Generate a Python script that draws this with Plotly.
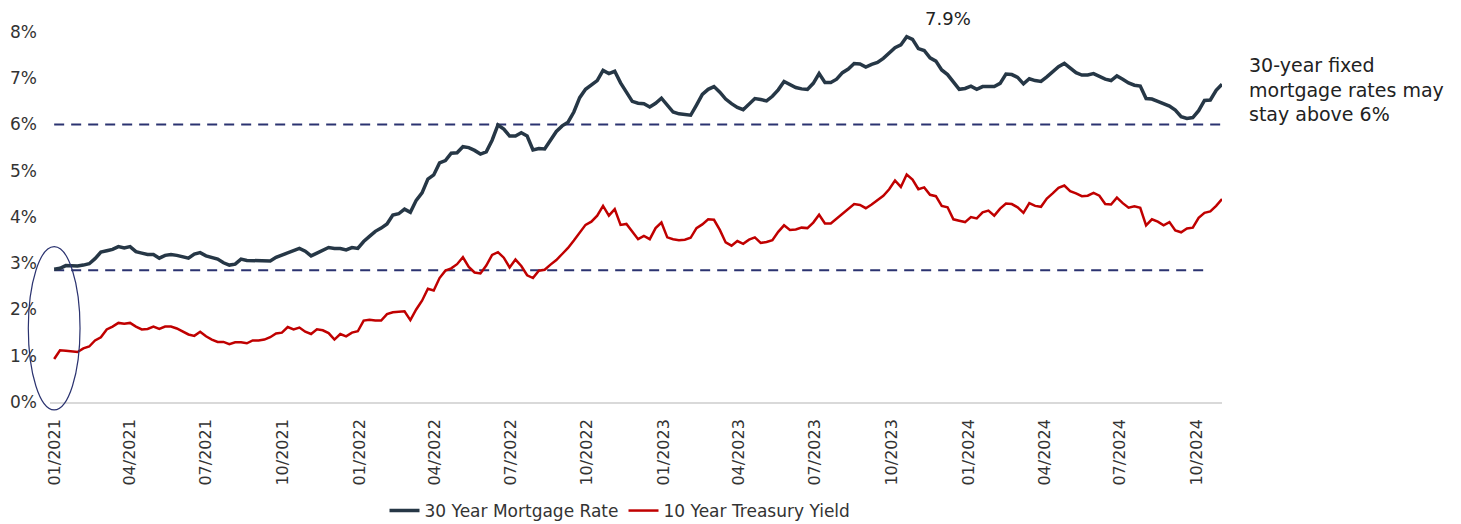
import pandas as pd
import plotly.graph_objects as go

# Weekly observations, first week ending 2020-12-31, last 2024-10-31
start_date = "2020-12-31"
n_weeks = 201

mortgage_30y = [
    2.87, 2.89, 2.95, 2.95, 2.94, 2.96, 2.99, 3.10, 3.24, 3.27,
    3.30, 3.36, 3.33, 3.36, 3.25, 3.22, 3.19, 3.19, 3.11, 3.17,
    3.19, 3.17, 3.14, 3.11, 3.20, 3.23, 3.16, 3.12, 3.09, 3.01,
    2.96, 2.98, 3.09, 3.06, 3.06, 3.06, 3.05, 3.05, 3.13, 3.18,
    3.23, 3.28, 3.32, 3.26, 3.16, 3.22, 3.27, 3.34, 3.32, 3.32,
    3.29, 3.34, 3.32, 3.47, 3.58, 3.69, 3.76, 3.85, 4.04, 4.07,
    4.17, 4.10, 4.36, 4.52, 4.82, 4.91, 5.17, 5.22, 5.38, 5.39,
    5.52, 5.50, 5.44, 5.36, 5.41, 5.66, 5.99, 5.90, 5.75, 5.75,
    5.82, 5.75, 5.45, 5.48, 5.47, 5.66, 5.85, 5.97, 6.05, 6.27,
    6.58, 6.76, 6.85, 6.95, 7.17, 7.10, 7.15, 6.90, 6.70, 6.50,
    6.46, 6.45, 6.38, 6.46, 6.57, 6.43, 6.27, 6.23, 6.22, 6.20,
    6.42, 6.65, 6.76, 6.82, 6.70, 6.55, 6.45, 6.37, 6.32, 6.45,
    6.56, 6.54, 6.51, 6.61, 6.75, 6.93, 6.86, 6.80, 6.77, 6.76,
    6.89, 7.10, 6.91, 6.91, 6.98, 7.12, 7.20, 7.32, 7.31, 7.24,
    7.30, 7.34, 7.43, 7.54, 7.66, 7.72, 7.90, 7.84, 7.64, 7.60,
    7.44, 7.37, 7.18, 7.08, 6.93, 6.76, 6.78, 6.83, 6.76, 6.82,
    6.82, 6.82, 6.89, 7.09, 7.08, 7.02, 6.88, 6.99, 6.95, 6.93,
    7.03, 7.15, 7.25, 7.32, 7.21, 7.12, 7.07, 7.07, 7.10, 7.03,
    6.98, 6.95, 7.05, 6.98, 6.90, 6.85, 6.83, 6.56, 6.55, 6.50,
    6.45, 6.40, 6.31, 6.17, 6.13, 6.15, 6.30, 6.52, 6.53, 6.74,
    6.87,
]

treasury_10y = [
    0.93, 1.12, 1.11, 1.09, 1.08, 1.16, 1.20, 1.33, 1.40, 1.57,
    1.63, 1.71, 1.69, 1.71, 1.63, 1.57, 1.58, 1.63, 1.58, 1.63,
    1.63, 1.59, 1.53, 1.46, 1.43, 1.52, 1.42, 1.35, 1.30, 1.30,
    1.25, 1.29, 1.29, 1.27, 1.33, 1.33, 1.35, 1.40, 1.48, 1.50,
    1.62, 1.57, 1.61, 1.52, 1.47, 1.57, 1.55, 1.49, 1.35, 1.47,
    1.42, 1.50, 1.53, 1.76, 1.78, 1.76, 1.76, 1.90, 1.94, 1.95,
    1.96, 1.77, 2.00, 2.19, 2.45, 2.41, 2.68, 2.84, 2.89, 2.98,
    3.13, 2.92, 2.80, 2.78, 2.95, 3.18, 3.24, 3.12, 2.91, 3.08,
    2.94, 2.74, 2.68, 2.84, 2.86, 2.97, 3.07, 3.20, 3.33, 3.49,
    3.67, 3.83, 3.90, 4.03, 4.24, 4.03, 4.17, 3.83, 3.85, 3.68,
    3.52, 3.59, 3.52, 3.76, 3.88, 3.56, 3.52, 3.50, 3.51, 3.55,
    3.76, 3.84, 3.95, 3.94, 3.72, 3.45, 3.38, 3.48, 3.42, 3.51,
    3.56, 3.44, 3.46, 3.50, 3.68, 3.82, 3.72, 3.73, 3.77, 3.76,
    3.88, 4.05, 3.86, 3.86, 3.96, 4.07, 4.17, 4.28, 4.26, 4.19,
    4.27, 4.36, 4.46, 4.60, 4.79, 4.65, 4.92, 4.81, 4.60, 4.64,
    4.48, 4.45, 4.24, 4.21, 3.95, 3.92, 3.89, 4.00, 3.97, 4.10,
    4.14, 4.03, 4.18, 4.29, 4.28, 4.21, 4.09, 4.30, 4.24, 4.22,
    4.40, 4.51, 4.63, 4.68, 4.56, 4.51, 4.45, 4.46, 4.52, 4.46,
    4.28, 4.27, 4.42, 4.30, 4.20, 4.23, 4.20, 3.82, 3.95, 3.90,
    3.82, 3.89, 3.71, 3.67, 3.75, 3.77, 3.98, 4.09, 4.12, 4.24,
    4.39,
]

y_ticks = [0, 1, 2, 3, 4, 5, 6, 7, 8]
y_tick_labels = ["0%", "1%", "2%", "3%", "4%", "5%", "6%", "7%", "8%"]
threshold_high = 6.0
threshold_low = 2.85
peak_label = "7.9%"
series_names = ["30 Year Mortgage Rate", "10 Year Treasury Yield"]
note_text = "30-year fixed<br>mortgage rates may<br>stay above 6%"

dates = pd.date_range(start_date, periods=n_weeks, freq="7D")

NAVY = "#263746"
RED = "#C00000"
DASH = "#2B3370"
FONT = "DejaVu Sans"
TXT = "#333333"

# the page body has an 8px default margin, so the figure is drawn 8px smaller
OFF = 8
W, H = 1461 - OFF, 524 - OFF
ML, MR, MT, MB = 50 - OFF, 239, 32 - OFF, 122
PW, PH = W - ML - MR, H - MT - MB
x_range = [pd.Timestamp("2020-12-26"), dates[-1]]
y_range = [0, 8]


def x_paper(d):
    d = pd.Timestamp(d)
    return (d - x_range[0]) / (x_range[1] - x_range[0])


def y_paper(v):
    return (v - y_range[0]) / (y_range[1] - y_range[0])


fig = go.Figure()
fig.add_trace(go.Scatter(x=dates, y=mortgage_30y, mode="lines", name=series_names[0],
                         line=dict(color=NAVY, width=3.5)))
fig.add_trace(go.Scatter(x=dates, y=treasury_10y, mode="lines", name=series_names[1],
                         line=dict(color=RED, width=2.5)))

# dashed reference lines
fig.add_shape(type="line", xref="x", yref="y", x0=dates[0], x1=dates[-1],
              y0=threshold_high, y1=threshold_high,
              line=dict(color=DASH, width=2, dash="10px,7px"), layer="below")
fig.add_shape(type="line", xref="x", yref="y", x0=dates[0], x1=pd.Timestamp("2024-10-12"),
              y0=threshold_low, y1=threshold_low,
              line=dict(color=DASH, width=2, dash="10px,7px"), layer="below")

# ellipse highlighting the start of the period (paper space so it is not clipped)
fig.add_shape(type="circle", xref="paper", yref="paper",
              x0=x_paper("2020-11-30"), x1=x_paper("2021-01-31"),
              y0=y_paper(-0.17), y1=y_paper(3.36),
              line=dict(color=DASH, width=1.2))

peak_idx = max(range(len(mortgage_30y)), key=lambda i: mortgage_30y[i])
fig.add_annotation(x=dates[peak_idx] + pd.Timedelta(days=50), y=mortgage_30y[peak_idx],
                   xref="x", yref="y", text=peak_label, showarrow=False,
                   yshift=18, font=dict(size=18, color="#222222", family=FONT))

fig.add_annotation(x=(1247 - OFF - ML) / PW, y=(H - MB - (90 - OFF)) / PH,
                   xref="paper", yref="paper",
                   text=note_text, showarrow=False, xanchor="left", yanchor="middle",
                   align="left", font=dict(size=19, color="#222222", family=FONT))

fig.update_layout(
    width=W, height=H,
    margin=dict(l=ML, r=MR, t=MT, b=MB, autoexpand=False),
    paper_bgcolor="white", plot_bgcolor="white",
    font=dict(family=FONT, size=16, color=TXT),
    showlegend=True,
    legend=dict(orientation="h", xref="container", yref="container",
                x=(620 - OFF) / W, xanchor="center", y=(H - (511 - OFF)) / H, yanchor="middle",
                font=dict(size=17, color=TXT, family=FONT), itemwidth=30,
                tracegroupgap=0),
    xaxis=dict(
        type="date", range=x_range, automargin=False,
        tick0="2021-01-01", dtick="M3", tickformat="%m/%Y", tickangle=-90,
        showgrid=False, zeroline=False, showline=True, linecolor="#d9d9d9", linewidth=1.5,
        ticks="", ticklabelstandoff=9, tickfont=dict(size=16, color=TXT, family=FONT),
    ),
    yaxis=dict(
        range=y_range, automargin=False, tickmode="array",
        tickvals=y_ticks, ticktext=y_tick_labels,
        showgrid=False, zeroline=False, showline=False, ticks="",
        ticklabelstandoff=12, tickfont=dict(size=17, color=TXT, family=FONT),
    ),
)

fig.write_html("out.html")
